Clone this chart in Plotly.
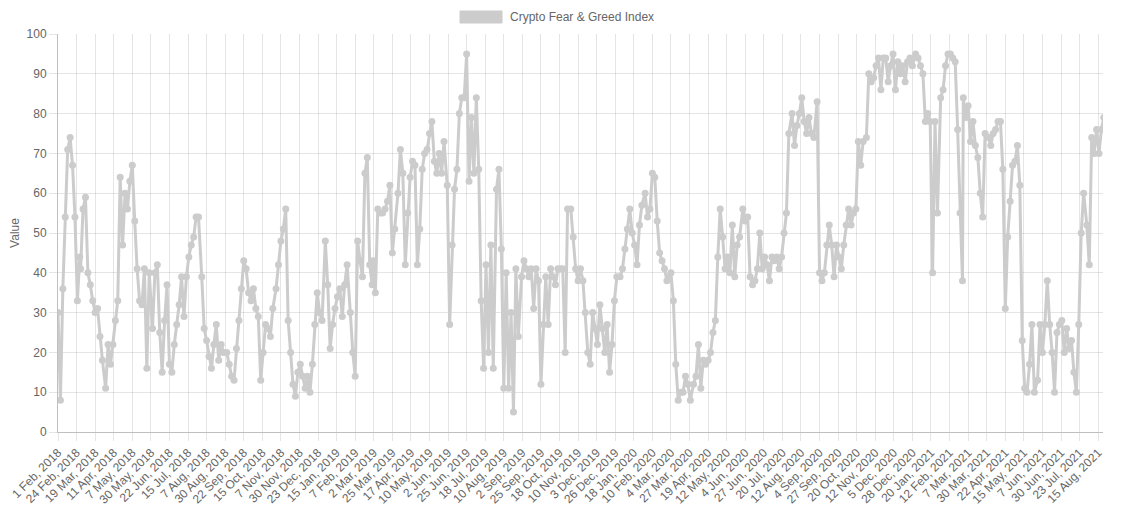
import pandas as pd
import plotly.graph_objects as go

# Fear & Greed readings, one list per month, sampled on days 1, 4, 7, ... 28
fg_2018 = [  # Feb .. Dec
    [30, 8, 36, 54, 71, 74, 67, 54, 33, 44],
    [41, 56, 59, 40, 37, 33, 30, 31, 24, 18],
    [11, 22, 17, 22, 28, 32, 33, 64, 47, 60],
    [56, 63, 67, 53, 41, 33, 32, 41, 16, 40],
    [26, 40, 42, 25, 15, 28, 37, 17, 15, 22],
    [27, 32, 39, 29, 39, 44, 47, 49, 54, 54],
    [39, 26, 23, 19, 16, 22, 27, 18, 22, 20],
    [20, 17, 14, 13, 21, 28, 36, 43, 41, 35],
    [33, 36, 31, 29, 13, 20, 27, 26, 24, 31],
    [36, 42, 48, 51, 56, 28, 20, 12, 9, 15],
    [17, 14, 11, 14, 10, 17, 27, 35, 30, 28],
]
fg_2019 = [  # Jan .. Dec
    [48, 37, 21, 27, 31, 34, 36, 29, 37, 42],
    [30, 20, 14, 48, 43, 39, 65, 69, 42, 37],
    [43, 35, 56, 55, 55, 56, 58, 62, 45, 51],
    [60, 71, 65, 42, 55, 64, 68, 67, 42, 51],
    [66, 70, 71, 75, 78, 68, 65, 70, 65, 73],
    [62, 27, 47, 61, 66, 80, 84, 84, 95, 63],
    [79, 65, 84, 66, 33, 16, 42, 20, 47, 16],
    [61, 66, 46, 11, 40, 11, 30, 5, 41, 24],
    [39, 43, 41, 39, 41, 31, 41, 38, 12, 27],
    [39, 27, 41, 39, 37, 41, 41, 41, 20, 56],
    [56, 49, 41, 38, 41, 38, 30, 20, 17, 30],
    [26, 22, 32, 26, 20, 27, 15, 22, 33, 39],
]
fg_2020 = [  # Jan .. Dec
    [39, 41, 46, 51, 56, 50, 47, 42, 52, 57],
    [60, 54, 56, 65, 64, 53, 45, 43, 41, 38],
    [39, 40, 33, 17, 8, 10, 10, 14, 12, 8],
    [12, 14, 22, 11, 18, 17, 18, 20, 25, 28],
    [44, 56, 49, 41, 44, 40, 52, 39, 47, 49],
    [56, 53, 54, 39, 37, 38, 41, 50, 41, 44],
    [42, 38, 44, 43, 44, 41, 44, 50, 55, 75],
    [80, 72, 77, 80, 84, 78, 75, 79, 75, 74],
    [83, 40, 38, 40, 47, 52, 47, 39, 47, 44],
    [41, 47, 52, 56, 52, 55, 56, 73, 67, 73],
    [74, 90, 88, 89, 92, 94, 86, 94, 94, 88],
    [92, 95, 86, 93, 90, 92, 88, 93, 94, 92],
]
fg_2021 = [  # Jan .. Aug
    [95, 94, 92, 90, 78, 80, 78, 40, 78, 55],
    [84, 86, 92, 95, 95, 94, 93, 76, 55, 38],
    [84, 79, 82, 73, 78, 72, 69, 60, 54, 75],
    [74, 72, 75, 76, 78, 78, 66, 31, 49, 58],
    [67, 68, 72, 62, 23, 11, 10, 17, 27, 10],
    [13, 27, 20, 27, 38, 27, 20, 10, 25, 27],
    [28, 20, 26, 21, 23, 15, 10, 27, 50, 60],
    [52, 42, 74, 70, 76, 70, 76, 79],
]

tick_labels = [
    "1 Feb, 2018", "24 Feb, 2018", "19 Mar, 2018", "11 Apr, 2018", "7 May, 2018",
    "30 May, 2018", "22 Jun, 2018", "15 Jul, 2018", "7 Aug, 2018", "30 Aug, 2018",
    "22 Sep, 2018", "15 Oct, 2018", "7 Nov, 2018", "30 Nov, 2018", "23 Dec, 2018",
    "15 Jan, 2019", "7 Feb, 2019", "2 Mar, 2019", "25 Mar, 2019", "17 Apr, 2019",
    "10 May, 2019", "2 Jun, 2019", "25 Jun, 2019", "18 Jul, 2019", "10 Aug, 2019",
    "2 Sep, 2019", "25 Sep, 2019", "18 Oct, 2019", "10 Nov, 2019", "3 Dec, 2019",
    "26 Dec, 2019", "18 Jan, 2020", "10 Feb, 2020", "4 Mar, 2020", "27 Mar, 2020",
    "19 Apr, 2020", "12 May, 2020", "4 Jun, 2020", "27 Jun, 2020", "20 Jul, 2020",
    "12 Aug, 2020", "4 Sep, 2020", "27 Sep, 2020", "20 Oct, 2020", "12 Nov, 2020",
    "5 Dec, 2020", "28 Dec, 2020", "20 Jan, 2021", "12 Feb, 2021", "7 Mar, 2021",
    "30 Mar, 2021", "22 Apr, 2021", "15 May, 2021", "7 Jun, 2021", "30 Jun, 2021",
    "23 Jul, 2021", "15 Aug, 2021",
]

missing_days = ["2018-04-14", "2018-04-15", "2018-04-16"]  # no data in source

GREY = "rgb(204,204,204)"
TXT = "#666666"
GRID = "rgba(0,0,0,0.1)"
FONT = "Liberation Sans, Arial, sans-serif"


def month_points(year, first_month, months):
    xs, ys = [], []
    for i, vals in enumerate(months):
        start = pd.Timestamp(year=year, month=first_month + i, day=1)
        for k, v in enumerate(vals):
            xs.append(start + pd.Timedelta(days=3 * k))
            ys.append(v)
    return xs, ys


dates, values = [], []
for year, first, months in [(2018, 2, fg_2018), (2019, 1, fg_2019),
                            (2020, 1, fg_2020), (2021, 1, fg_2021)]:
    xs, ys = month_points(year, first, months)
    dates += xs
    values += ys

tick_vals = pd.to_datetime(tick_labels, format="%d %b, %Y")

fig = go.Figure()
fig.add_trace(go.Scatter(
    x=dates, y=values, mode="lines+markers",
    line=dict(color=GREY, width=3),
    marker=dict(color=GREY, size=7),
    connectgaps=True, showlegend=False,
    name="Crypto Fear & Greed Index",
))

# the page body adds an 8px offset, so the figure is 8px smaller each way
fig.update_layout(
    width=1115, height=500,
    margin=dict(l=50, r=20, t=26, b=76, autoexpand=False),
    paper_bgcolor="white", plot_bgcolor="white",
    font=dict(family=FONT, size=12, color=TXT),
)
fig.update_xaxes(
    type="date", automargin=False,
    range=["2018-02-01", "2021-08-21"],
    rangebreaks=[dict(values=missing_days)],
    tickvals=tick_vals, ticktext=tick_labels, tickangle=-45,
    showgrid=True, gridcolor=GRID, gridwidth=1,
    ticks="outside", ticklen=8, tickcolor=GRID,
    showline=True, linecolor="rgba(0,0,0,0.25)", linewidth=1,
    tickfont=dict(size=12, color=TXT),
)
fig.update_yaxes(
    automargin=False,
    range=[0, 100], dtick=10,
    showgrid=True, gridcolor=GRID, gridwidth=1,
    ticks="outside", ticklen=8, tickcolor=GRID,
    showline=True, linecolor="rgba(0,0,0,0.25)", linewidth=1,
    zeroline=False,
    title=dict(text="Value", font=dict(size=12, color=TXT), standoff=12),
    tickfont=dict(size=12, color=TXT),
)

# chart.js style legend box on top
fig.add_shape(type="rect", xref="paper", yref="paper",
              x0=0.3847, x1=0.4249, y0=1.0276, y1=1.0578,
              fillcolor=GREY, line=dict(color=GREY, width=1))
fig.add_annotation(xref="paper", yref="paper", x=0.4306, y=1.0427,
                   xanchor="left", yanchor="middle", showarrow=False,
                   text="Crypto Fear & Greed Index",
                   font=dict(size=12, color=TXT))

fig.write_html("out.html")
